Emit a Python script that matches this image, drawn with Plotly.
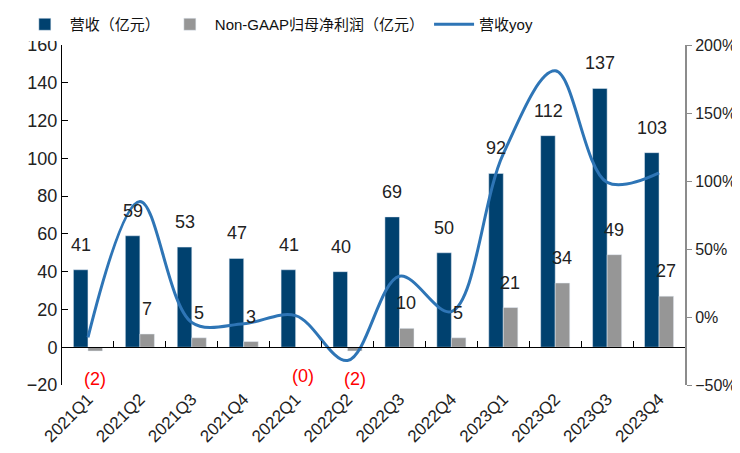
import plotly.graph_objects as go

# quarterly data
quarters = ['2021Q1', '2021Q2', '2021Q3', '2021Q4', '2022Q1', '2022Q2',
            '2022Q3', '2022Q4', '2023Q1', '2023Q2', '2023Q3', '2023Q4']
revenue = [41, 59, 53, 47, 41, 40, 69, 50, 92, 112, 137, 103]
net_profit = [-2, 7, 5, 3, -0.4, -2, 10, 5, 21, 34, 49, 27]
revenue_yoy = [-0.15, 0.85, -0.04, -0.05, 0.01, -0.32, 0.30, 0.04, 1.20, 1.81, 0.99, 1.06]

FONT = 'Liberation Sans, Noto Sans CJK SC, sans-serif'
BLUE = '#00416F'
GREY = '#969696'
LINE = '#2E75B6'


def fmt(v):
    return f'({abs(v):.0f})' if v < 0 else f'{v:.0f}'


fig = go.Figure()

fig.add_trace(go.Bar(x=quarters, y=revenue, name='营收（亿元）',
                     marker_color=BLUE, xaxis='x', yaxis='y'))
fig.add_trace(go.Bar(x=quarters, y=net_profit, name='Non-GAAP归母净利润（亿元）',
                     marker_color=GREY, xaxis='x', yaxis='y'))
fig.add_trace(go.Scatter(x=quarters, y=revenue_yoy, name='营收yoy', mode='lines',
                         line=dict(color=LINE, width=3, shape='spline', smoothing=1.0),
                         xaxis='x2', yaxis='y2'))

# value labels
annotations = []
for q, v in zip(quarters, revenue):
    annotations.append(dict(x=q, y=v, xref='x', yref='y', text=fmt(v), showarrow=False,
                            xshift=-7, yshift=25, font=dict(size=18, color='#222222')))
for q, v in zip(quarters, net_profit):
    annotations.append(dict(x=q, y=v, xref='x', yref='y', text=fmt(v), showarrow=False,
                            xshift=7, yshift=25 if v >= 0 else -28,
                            font=dict(size=18, color='#222222' if v >= 0 else '#FF0000')))

# the page body adds an 8px offset, so margins are shifted to compensate
fig.update_layout(
    width=740, height=453,
    margin=dict(l=54, r=63, t=37, b=76, autoexpand=False),
    paper_bgcolor='white', plot_bgcolor='white',
    font=dict(family=FONT, size=17, color='#222222'),
    barmode='group', bargap=0.44, bargroupgap=0,
    showlegend=True,
    legend=dict(orientation='h', xref='container', yref='container',
                x=0.016, y=1.0, xanchor='left', yanchor='top',
                font=dict(size=15, color='#111111'), traceorder='normal', itemwidth=40,
                tracegroupgap=0),
    xaxis=dict(type='category', categoryorder='array', categoryarray=quarters,
               range=[-0.5, 11.5], anchor='free', position=20 / 180,
               showline=True, linecolor='black', linewidth=1,
               ticks='inside', tickson='boundaries', ticklen=6, tickcolor='black',
               showticklabels=False, showgrid=False, zeroline=False),
    xaxis2=dict(type='category', categoryorder='array', categoryarray=quarters,
                range=[-0.5, 11.5], overlaying='x', anchor='y2', side='bottom',
                showline=False, ticks='', tickangle=-45, showgrid=False,
                tickfont=dict(size=17)),
    yaxis=dict(range=[-20, 160], dtick=20, showline=True, linecolor='black', linewidth=1,
               ticks='inside', ticklen=6, tickcolor='black', showgrid=False,
               zeroline=False, tickfont=dict(size=18)),
    yaxis2=dict(range=[-0.5, 2.0], dtick=0.5, tickformat='.0%', overlaying='y',
                anchor='x2', side='right', showline=True, linecolor='#8C8C8C', linewidth=2,
                ticks='outside', ticklen=5, tickcolor='#8C8C8C', showgrid=False,
                zeroline=False, tickfont=dict(size=16)),
    annotations=annotations,
)

fig.write_html('out.html')
